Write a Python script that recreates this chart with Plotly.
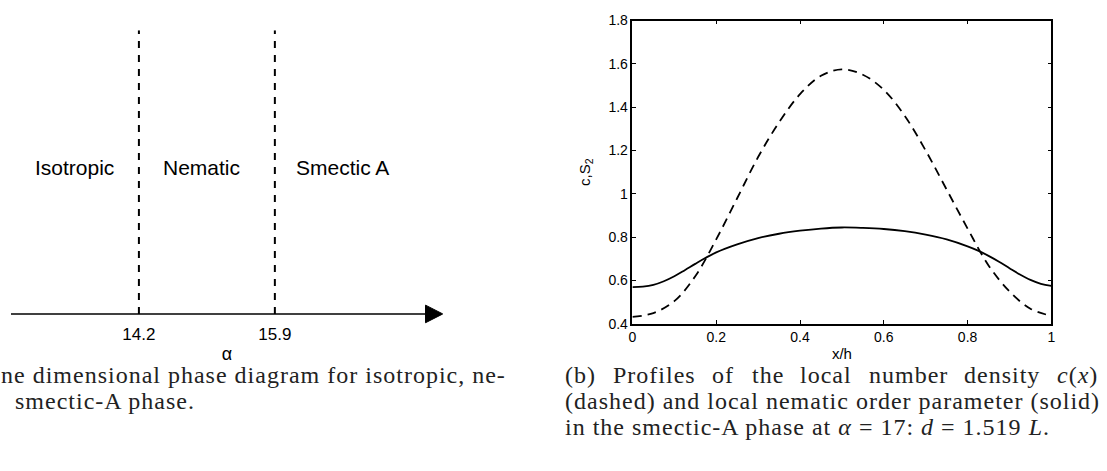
import plotly.graph_objects as go

# ---------------- data ----------------
# Left panel: one-dimensional phase diagram along alpha
alpha_min, alpha_max = 12.6, 18.0
phase_boundaries = [14.2, 15.9]
boundary_labels = ["14.2", "15.9"]
phase_names = ["Isotropic", "Nematic", "Smectic A"]

# Right panel: local number density c(x) (dashed)
x_c = [0.00, 0.05, 0.10, 0.15, 0.20, 0.25, 0.30, 0.35, 0.40, 0.45, 0.50,
       0.55, 0.60, 0.65, 0.70, 0.75, 0.80, 0.85, 0.90, 0.95, 1.00]
c_density = [0.432, 0.450, 0.505, 0.620, 0.790, 0.980, 1.170, 1.330, 1.460, 1.545, 1.575,
             1.550, 1.480, 1.360, 1.200, 1.020, 0.840, 0.670, 0.550, 0.470, 0.437]

# Right panel: local nematic order parameter S2(x) (solid)
x_s = [0.000, 0.025, 0.050, 0.075, 0.100, 0.125, 0.150, 0.175, 0.200, 0.250, 0.300,
       0.350, 0.400, 0.450, 0.500, 0.550, 0.600, 0.650, 0.700, 0.750, 0.800,
       0.825, 0.850, 0.875, 0.900, 0.925, 0.950, 0.975, 1.000]
s2_order = [0.570, 0.572, 0.580, 0.597, 0.620, 0.648, 0.677, 0.705, 0.730, 0.767, 0.796,
            0.816, 0.830, 0.840, 0.845, 0.843, 0.838, 0.828, 0.812, 0.790, 0.758,
            0.738, 0.714, 0.687, 0.657, 0.628, 0.603, 0.585, 0.575]

W, H = 1107, 471


def px(x):
    return x / W


def py(y):
    return 1 - y / H


fig = go.Figure()

# ---- left panel ----
for b in phase_boundaries:
    fig.add_trace(go.Scatter(x=[b, b], y=[0, 1], mode="lines",
                             line=dict(color="black", width=2, dash="7px,7px"),
                             xaxis="x", yaxis="y", showlegend=False, hoverinfo="skip"))

arrow_len = (alpha_max - alpha_min) * 0.040
arrow_half = 0.031
fig.add_trace(go.Scatter(x=[alpha_min, alpha_max - arrow_len], y=[0, 0], mode="lines",
                         line=dict(color="black", width=1.6),
                         xaxis="x", yaxis="y", showlegend=False, hoverinfo="skip"))
fig.add_trace(go.Scatter(x=[alpha_max - arrow_len, alpha_max, alpha_max - arrow_len, alpha_max - arrow_len],
                         y=[arrow_half, 0, -arrow_half, arrow_half], mode="lines",
                         fill="toself", fillcolor="black", line=dict(color="black", width=1),
                         xaxis="x", yaxis="y", showlegend=False, hoverinfo="skip"))

# phase labels: centred in each region (right region centre placed before the arrow head)
label_x = [(alpha_min + phase_boundaries[0]) / 2,
           (phase_boundaries[0] + phase_boundaries[1]) / 2 - 0.07,
           phase_boundaries[1] + 0.85]
annotations = []
for xl, name in zip(label_x, phase_names):
    annotations.append(dict(x=xl, y=0.515, xref="x", yref="y",
                            text=name, showarrow=False,
                            font=dict(family="Liberation Sans, Arial", size=21, color="black")))

# ---- right panel ----
fig.add_trace(go.Scatter(x=x_c, y=c_density, mode="lines", line_shape="spline",
                         line=dict(color="black", width=1.8, dash="9px,6px"),
                         xaxis="x2", yaxis="y2", showlegend=False, name="c"))
fig.add_trace(go.Scatter(x=x_s, y=s2_order, mode="lines", line_shape="spline",
                         line=dict(color="black", width=1.8),
                         xaxis="x2", yaxis="y2", showlegend=False, name="S2"))

# ---- captions ----
serif = dict(family="Liberation Serif, Times New Roman, serif", size=24, color="#222")


def sp(t):
    return '<span style="letter-spacing:1px">' + t + '</span>'


cap_lines = [
    (-5, 380, "ne dimensional phase diagram for isotropic, ne-"),
    (9, 407, "smectic-A phase."),
    (563, 407, "(dashed) and local nematic order parameter (solid)"),
    (563, 434, "in the smectic-A phase at <i>α</i> = 17: <i>d</i> = 1.519 <i>L</i>."),
]
for x0, y0, txt in cap_lines:
    annotations.append(dict(x=px(x0), y=py(y0), xref="paper", yref="paper", xanchor="left",
                            yanchor="middle", text=sp(txt), showarrow=False, font=serif))

line1_words = [(563, "(b)"), (611, "Profiles"), (711, "of"), (751, "the"), (800, "local"),
               (869, "number"), (965, "density"), (1059, "<i>c</i>(<i>x</i>)")]
for x0, w in line1_words:
    annotations.append(dict(x=px(x0), y=py(380), xref="paper", yref="paper", xanchor="left",
                            yanchor="middle", text=sp(w), showarrow=False, font=serif))

sans = "Liberation Sans, Arial, Helvetica, sans-serif"
y_lo = -0.1
fig.update_layout(
    width=W, height=H,
    margin=dict(l=0, r=0, t=0, b=0),
    paper_bgcolor="white", plot_bgcolor="white",
    font=dict(family=sans, color="black"),
    xaxis=dict(domain=[px(7), px(442)], range=[alpha_min, alpha_max],
               tickvals=phase_boundaries, ticktext=boundary_labels,
               showline=False, showgrid=False, zeroline=False, ticks="",
               ticklabelstandoff=8,
               tickfont=dict(size=17, family=sans),
               title=dict(text="α", font=dict(size=18, family=sans), standoff=4),
               anchor="free", position=py(316.7), fixedrange=True),
    yaxis=dict(domain=[py(316.7 - y_lo * (316.7 - 23)), py(23)], range=[y_lo, 1], visible=False,
               anchor="x", fixedrange=True),
    xaxis2=dict(domain=[px(633), px(1055)], range=[0, 1],
                tickvals=[0, 0.2, 0.4, 0.6, 0.8, 1], ticktext=["0", "0.2", "0.4", "0.6", "0.8", "1"],
                showline=True, linecolor="black", linewidth=1.5, mirror="ticks",
                ticks="inside", ticklen=4, tickwidth=1, tickcolor="black",
                showgrid=False, zeroline=False,
                tickfont=dict(size=14, family=sans),
                title=dict(text="x/h", font=dict(size=15, family=sans), standoff=4),
                anchor="y2"),
    yaxis2=dict(domain=[py(327), py(13)], range=[0.4, 1.8],
                tickvals=[0.4, 0.6, 0.8, 1.0, 1.2, 1.4, 1.6, 1.8],
                ticktext=["0.4", "0.6", "0.8", "1", "1.2", "1.4", "1.6", "1.8"],
                showline=True, linecolor="black", linewidth=1.5, mirror="ticks",
                ticks="inside", ticklen=4, tickwidth=1, tickcolor="black",
                showgrid=False, zeroline=False,
                tickfont=dict(size=14, family=sans),
                title=dict(text="c,S<sub>2</sub>", font=dict(size=15, family=sans), standoff=14),
                anchor="x2"),
    annotations=annotations,
)

fig.write_html("out.html", config={"displayModeBar": False},
               post_script="document.body.style.margin='0';")
